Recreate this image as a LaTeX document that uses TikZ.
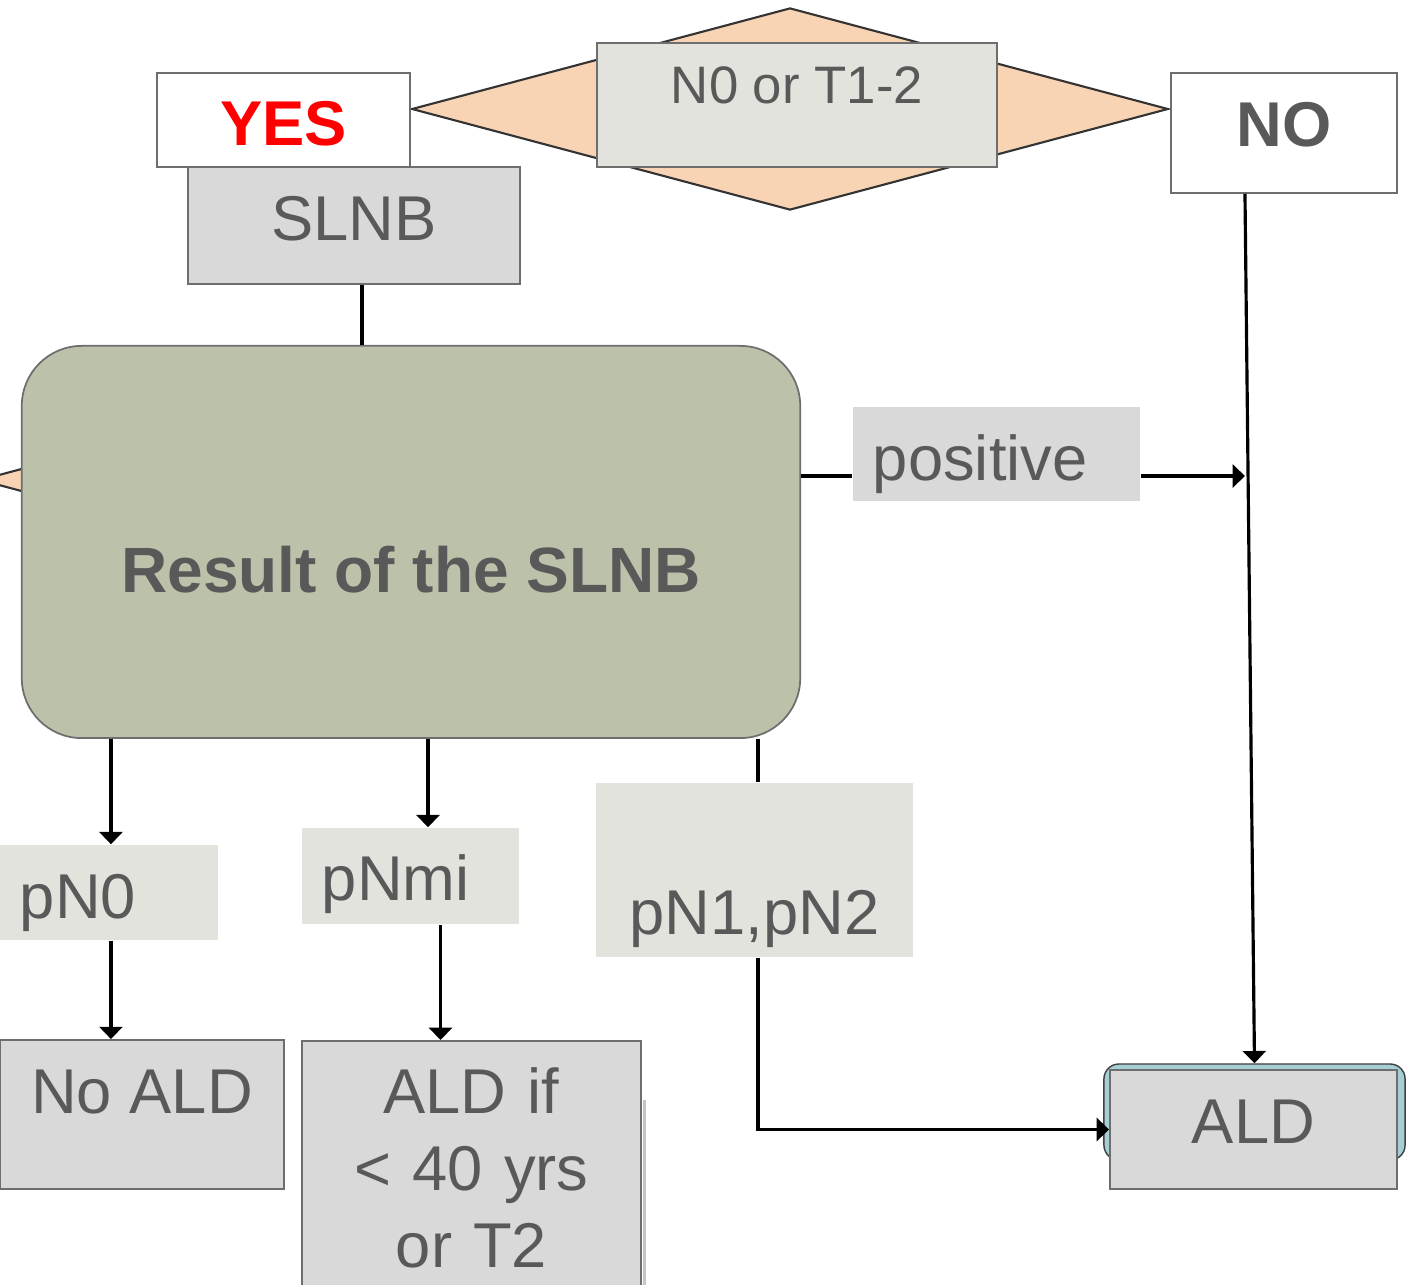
\documentclass[tikz,border=0pt]{standalone}
\usepackage{fontspec}
\setmainfont{Liberation Sans}
\usetikzlibrary{shapes.geometric,arrows.meta}

\definecolor{txtgray}{HTML}{595959}
\definecolor{edgegray}{HTML}{6E6E6E}
\definecolor{peach}{HTML}{F9D4B4}
\definecolor{sage}{HTML}{BCC2AA}
\definecolor{pale}{HTML}{E2E3DC}
\definecolor{boxgray}{HTML}{D9D9D9}
\definecolor{aldteal}{HTML}{A5CFD3}

\begin{document}
\begin{tikzpicture}[x=0.01cm,y=-0.01cm,
    every node/.style={inner sep=0pt,text=txtgray,font=\fontsize{18}{21.9}\selectfont},
    framed/.style={draw=edgegray,line width=0.5pt},
    tag/.style={fill=pale,anchor=base},
    decision/.style={diamond,draw=black!80,fill=peach,line width=0.6pt,minimum width=7.56cm,minimum height=2.02cm},
    arr/.style={-{Triangle[width=6.5pt,length=3.5pt]},line width=0.9pt},
    link/.style={line width=0.9pt}]
    \useasboundingbox (0,0) rectangle (1415,1284);

    % decision diamonds (the second one sits behind the result box)
    \node[decision](dec0)at(358,480){};
    \node[decision](dec)at(790,109){};

    % top row
    \node[framed,fill=pale,anchor=base,minimum width=4cm,text height=0.60cm,text depth=0.64cm,font=\fontsize{15}{18}\selectfont](crit)at(797,103){N0 or T1-2};
    \node[framed,fill=white,anchor=base,minimum width=2.53cm,text height=0.72cm,text depth=0.22cm,text=red,font=\fontsize{18}{21.9}\selectfont\bfseries](yes)at(283.5,145){YES};
    \node[framed,fill=white,anchor=base,minimum width=2.26cm,text height=0.73cm,text depth=0.47cm,font=\fontsize{18}{21.9}\selectfont\bfseries](no)at(1284,146){NO};
    \node[framed,fill=boxgray,anchor=base,minimum width=3.32cm,text height=0.73cm,text depth=0.44cm](slnb)at(354,240){SLNB};

    % result of the biopsy
    \node[framed,fill=sage,rounded corners=6mm,anchor=base,minimum width=7.78cm,text height=2.46cm,text depth=1.46cm,font=\fontsize{18.2}{22}\selectfont\bfseries](result)at(411,592){Result of the SLNB};

    % branch labels
    \node[tag,fill=boxgray,text width=2.47cm,inner xsep=2mm,align=left,text height=0.73cm,text depth=0.21cm](pos)at(996.5,480){positive};
    \node[tag,text width=1.78cm,inner xsep=2mm,align=left,text height=0.73cm,text depth=0.22cm](pn0)at(109,918){pN0};
    \node[tag,text width=1.77cm,inner xsep=2mm,align=left,text height=0.72cm,text depth=0.24cm](pnmi)at(410.5,900){pNmi};
    \node[tag,minimum width=3.17cm,text height=1.51cm,text depth=0.23cm](pn1)at(754.5,934){pN1,pN2};

    % outcomes
    \node[framed,fill=boxgray,anchor=base,minimum width=2.84cm,text height=0.73cm,text depth=0.76cm](noald)at(142,1113){No ALD};
    \node[framed,fill=boxgray,anchor=north,text width=3.39cm,align=center,minimum height=2.53cm](aldif)at(471.5,1040){ALD if\\< 40 yrs\\or T2};
    \draw[edgegray!40,line width=1pt]([xshift=0.25mm,yshift=-0.6cm]aldif.north east)--([xshift=0.25mm]aldif.south east);
    \node[draw=black!75,fill=aldteal,rounded corners=1.5mm,minimum width=3.01cm,minimum height=0.96cm](aldback)at(1254.5,1112){};
    \node[framed,fill=boxgray,anchor=base,minimum width=2.87cm,text height=0.73cm,text depth=0.46cm](ald)at(1253.5,1143){ALD};

    % connectors
    \coordinate(ntop)at([xshift=-3.9mm]no.south);
    \coordinate(posin)at([yshift=-2.2mm]pos.west);
    \coordinate(posout)at([yshift=-2.2mm]pos.east);
    \coordinate(c0)at([xshift=9mm]result.south west);
    \coordinate(cmi)at([xshift=1.75mm]pnmi.south);
    \coordinate(c1)at([xshift=0.35mm]pn1.south);

    \draw[link]([xshift=0.8mm]slnb.south)--([xshift=0.8mm]slnb.south|-result.north);
    \draw[arr](ntop)--(aldback.north);
    \draw[link](result.east|-posin)--(posin);
    \draw[arr](posout)--(posout-|ntop);

    \draw[arr](c0)--(c0|-pn0.north);
    \draw[arr](c0|-pn0.south)--(c0|-noald.north);
    \draw[arr](result.south-|cmi)--(cmi|-pnmi.north);
    \draw[arr]([xshift=3mm]pnmi.south)--([xshift=3mm]pnmi.south|-aldif.north);
    \draw[link](result.south-|c1)--(c1|-pn1.north);
    \draw[arr](c1)|-(ald.west);
\end{tikzpicture}
\end{document}
